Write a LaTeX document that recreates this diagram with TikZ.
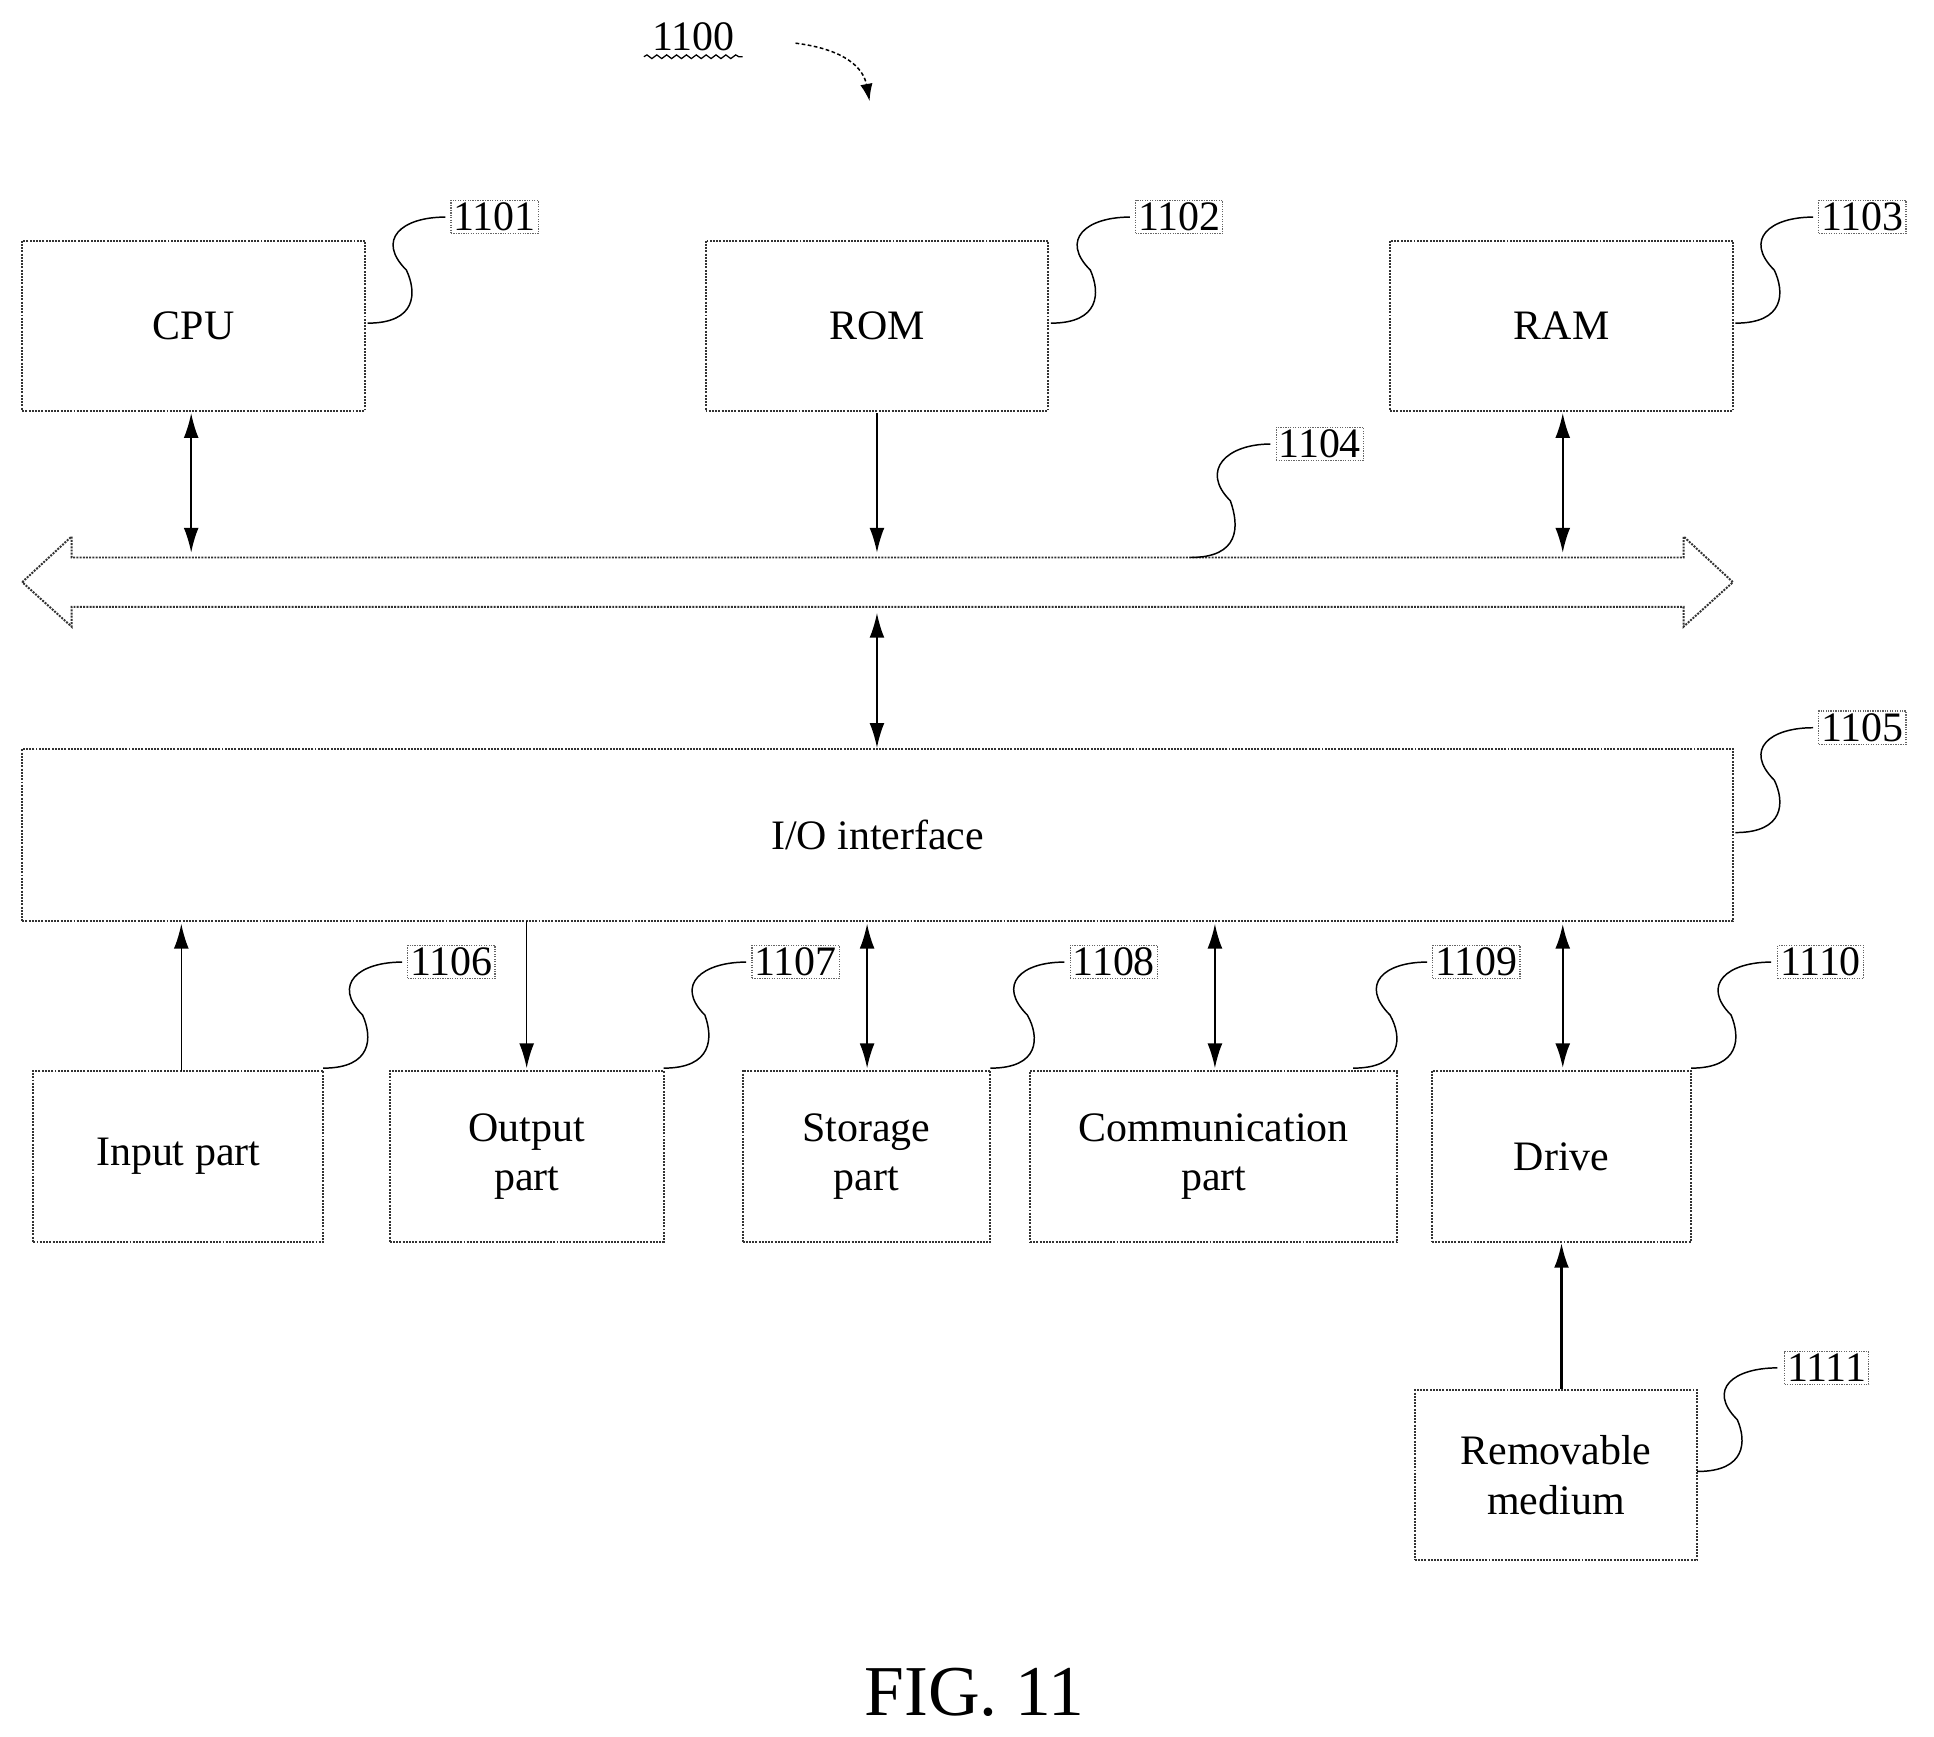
\documentclass[tikz,border=0pt]{standalone}
\usepackage{fontspec}
\setmainfont{Liberation Serif}
\usetikzlibrary{arrows.meta,decorations.pathmorphing}
\begin{document}
\begin{tikzpicture}[x=1pt,y=-1pt,
 box/.style={draw=black!80,line width=1.6pt,densely dotted,inner sep=0pt,font=\fontsize{34}{40}\selectfont,align=center},
 lbl/.style={draw=black!60,densely dotted,line width=1pt,inner sep=2pt,font=\fontsize{34}{40}\selectfont},
 ar/.style={line width=1.3pt,-{Latex[length=20pt,width=12pt]}},
 dar/.style={line width=1.3pt,{Latex[length=20pt,width=12pt]}-{Latex[length=20pt,width=12pt]}},
 sq/.style={line width=1.2pt}]
\useasboundingbox (0,0) rectangle (1568,1408);
\newcommand{\bx}[6]{\node[box,minimum width=#4-#2,minimum height=#5-#3] (#1) at ({(#2+#4)/2},{(#3+#5)/2}) {#6};}
\bx{cpu}{18}{195}{296}{333}{CPU}
\bx{rom}{572}{195}{850}{333}{ROM}
\bx{ram}{1127}{195}{1405}{333}{RAM}
\bx{io}{18}{607}{1405}{747}{I/O interface}
\bx{inp}{27}{868}{262}{1007}{Input part}
\bx{out}{316}{868}{538}{1007}{Output\\part}
\bx{sto}{602}{868}{803}{1007}{Storage\\part}
\bx{com}{835}{868}{1133}{1007}{Communication\\part}
\bx{drv}{1161}{868}{1371}{1007}{Drive}
\bx{rem}{1147}{1127}{1376}{1265}{Removable\\medium}
% bus
\draw[line width=1.6pt,densely dotted,draw=black!80] (18,472) -- (58,435) -- (58,452) -- (1365,452) -- (1365,435) -- (1405,472) -- (1365,508) -- (1365,492) -- (58,492) -- (58,508) -- cycle;
\coordinate (b1) at (155,448); \coordinate (b2) at (711,448); \coordinate (b3) at (1267,448);
\coordinate (b4) at (711,497);
\draw[dar] (155,335) -- (b1);
\draw[ar] (rom.south |- 0,335) -- (b2);
\draw[dar] (1267,335) -- (b3);
\draw[dar] (b4) -- (b4 |- io.north);
\draw[ar] (147,868) -- (147,749);
\draw[ar] (427,747) -- (427,866);
\draw[dar] (703,749) -- (703,866);
\draw[dar] (985,749) -- (985,866);
\draw[dar,line width=2pt] (1267,749) -- (1267,866);
\draw[ar,line width=2pt] (rem.north -| drv.south) -- (drv.south);
% labels
\newcommand{\lab}[6]{\node[lbl] (#1) at (#2,#3) {#4};
 \draw[sq] (#5,#6) .. controls ({#5+40},{#6}) and ({#5+40},{#6-25}) .. ({(#5+#2-40)/2},{(#6+#3)/2}) .. controls ({(#5+#2-40)/2-25},{(#6+#3)/2-25}) and ({#2-75},{#3}) .. ({#2-40},{#3});}
\lab{l1}{401}{176}{1101}{298}{262}
\lab{l2}{956}{176}{1102}{852}{262}
\lab{l3}{1510}{176}{1103}{1407}{262}
\lab{l4}{1070}{360}{1104}{965}{452}
\lab{l5}{1510}{590}{1105}{1407}{675}
\lab{l6}{366}{780}{1106}{262}{866}
\lab{l7}{645}{780}{1107}{538}{866}
\lab{l8}{903}{780}{1108}{803}{866}
\lab{l9}{1197}{780}{1109}{1097}{866}
\lab{l10}{1476}{780}{1110}{1371}{866}
\lab{l11}{1481}{1109}{1111}{1376}{1193}
\node[font=\fontsize{34}{40}\selectfont,inner sep=0pt] (t) at (562,30) {1100};
\draw[line width=1pt,decorate,decoration={snake,amplitude=1.5pt,segment length=8pt}] (522,46) -- (602,46);
\coordinate (ta) at (645,35);
\draw[line width=1.2pt,densely dashed,-{Latex[length=14pt,width=10pt]}] (ta) .. controls (685,40) and (700,55) .. (705,82);
\node[font=\fontsize{58}{66}\selectfont] (fig) at (790,1372) {FIG. 11};
\end{tikzpicture}
\end{document}
